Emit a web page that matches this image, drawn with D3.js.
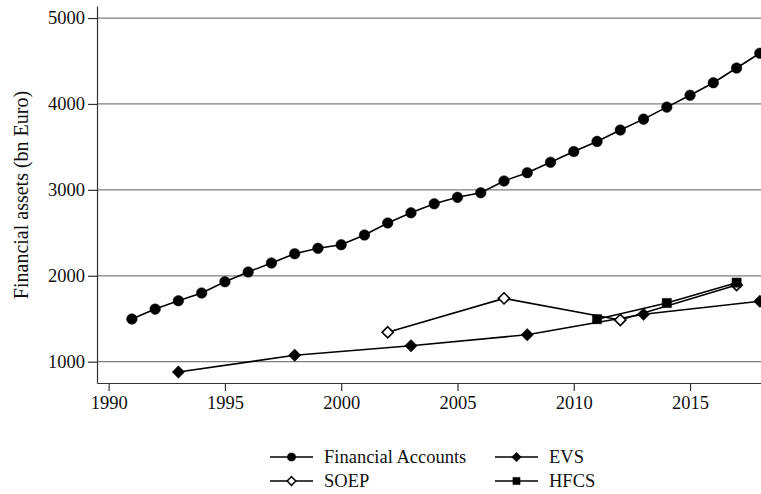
<!DOCTYPE html>
<html lang="en">
<head>
    <meta charset="UTF-8">
    <title>Financial assets</title>
    <script src="https://cdn.jsdelivr.net/npm/d3@7"></script>
    <style>
        body { margin: 0; background: #fff; }
        svg { display: block; }
    </style>
</head>
<body>
    <svg></svg>
    <script>
        // data (bn Euro)
        var faYears = d3.range(1991, 2019);
        var faValues = [1497, 1612, 1710, 1800, 1931, 2044, 2149, 2257, 2320, 2362,
                        2475, 2615, 2733, 2838, 2913, 2967, 3104, 3200, 3322, 3446,
                        3564, 3696, 3823, 3963, 4101, 4247, 4418, 4590];
        var evsYears = [1993, 1998, 2003, 2008, 2013, 2018];
        var evsValues = [880, 1075, 1185, 1314, 1552, 1703];
        var soepYears = [2002, 2007, 2012, 2017];
        var soepValues = [1342, 1737, 1486, 1892];
        var hfcsYears = [2011, 2014, 2017];
        var hfcsValues = [1495, 1683, 1920];
        var xTicks = [1990, 1995, 2000, 2005, 2010, 2015];
        var yTicks = [1000, 2000, 3000, 4000, 5000];

        var W = 761, H = 494;
        var plotL = 97, plotR = 761, plotT = 6, plotB = 383;
        var font = "'Liberation Serif', 'Times New Roman', serif";

        var svg = d3.select("svg").attr("width", W).attr("height", H)
            .style("font-family", font);

        var x = d3.scaleLinear().domain([1989.5, 2018.05]).range([plotL, plotR]);
        var y = d3.scaleLinear().domain([752, 5140]).range([plotB, plotT]);

        //gridlines
        svg.append("g").selectAll("line")
            .data(yTicks).enter().append("line")
            .attr("x1", plotL).attr("x2", plotR)
            .attr("y1", function(d){ return y(d); })
            .attr("y2", function(d){ return y(d); })
            .attr("stroke", "#7f7f7f").attr("stroke-width", 1.2);

        //axes
        var yAxis = svg.append("g")
            .attr("transform", "translate(" + plotL + ",0)")
            .call(d3.axisLeft(y).tickValues(yTicks).tickSize(9).tickSizeOuter(0).tickPadding(3).tickFormat(d3.format("d")));
        var xAxis = svg.append("g")
            .attr("transform", "translate(0," + plotB + ")")
            .call(d3.axisBottom(x).tickValues(xTicks).tickSize(8).tickSizeOuter(0).tickPadding(5).tickFormat(d3.format("d")));
        [yAxis, xAxis].forEach(function(a){
            a.select(".domain").attr("stroke", "#333").attr("stroke-width", 1.2);
            a.selectAll(".tick line").attr("stroke", "#333").attr("stroke-width", 1.2);
            a.selectAll("text").attr("fill", "#111").style("font-size", "18.5px").style("font-family", font);
        });

        svg.append("text")
            .attr("transform", "translate(28,195) rotate(-90)")
            .attr("text-anchor", "middle")
            .style("font-size", "20px")
            .attr("fill", "#111")
            .text("Financial assets (bn Euro)");

        //marker shapes
        var shapes = {
            circle: d3.symbol().type(d3.symbolCircle),
            diamond: d3.symbol().type(d3.symbolDiamond2),
            square: d3.symbol().type(d3.symbolSquare)
        };

        var series = [
            {name: "Financial Accounts", years: faYears, values: faValues, shape: "circle", fill: "#000", size: 88},
            {name: "EVS", years: evsYears, values: evsValues, shape: "diamond", fill: "#000", size: 98},
            {name: "SOEP", years: soepYears, values: soepValues, shape: "diamond", fill: "#fff", size: 80},
            {name: "HFCS", years: hfcsYears, values: hfcsValues, shape: "square", fill: "#000", size: 85}
        ];

        var line = d3.line()
            .x(function(d){ return x(d[0]); })
            .y(function(d){ return y(d[1]); });

        series.forEach(function(s){
            var pts = s.years.map(function(yr, i){ return [yr, s.values[i]]; });
            svg.append("path")
                .datum(pts)
                .attr("d", line)
                .attr("fill", "none")
                .attr("stroke", "#000")
                .attr("stroke-width", 1.6);
            svg.append("g").selectAll("path")
                .data(pts).enter().append("path")
                .attr("transform", function(d){ return "translate(" + x(d[0]) + "," + y(d[1]) + ")"; })
                .attr("d", shapes[s.shape].size(s.size)())
                .attr("fill", s.fill)
                .attr("stroke", "#000")
                .attr("stroke-width", s.fill === "#fff" ? 1.6 : 0.5);
        });

        //legend
        var legendPos = [[270, 457], [495, 457], [270, 481], [495, 481]];
        var lg = svg.append("g");
        series.forEach(function(s, k){
            var p = legendPos[k];
            var g = lg.append("g").attr("transform", "translate(" + p[0] + "," + p[1] + ")");
            g.append("line").attr("x1", 0).attr("x2", 43).attr("y1", 0).attr("y2", 0)
                .attr("stroke", "#000").attr("stroke-width", 1.6);
            g.append("path")
                .attr("transform", "translate(21.5,0)")
                .attr("d", shapes[s.shape].size(s.size * 0.6)())
                .attr("fill", s.fill).attr("stroke", "#000")
                .attr("stroke-width", s.fill === "#fff" ? 1.5 : 0.5);
            g.append("text").attr("x", 54).attr("y", 0).attr("dy", "0.35em")
                .style("font-size", "18.5px").attr("fill", "#111")
                .text(s.name);
        });
    </script>
</body>
</html>
